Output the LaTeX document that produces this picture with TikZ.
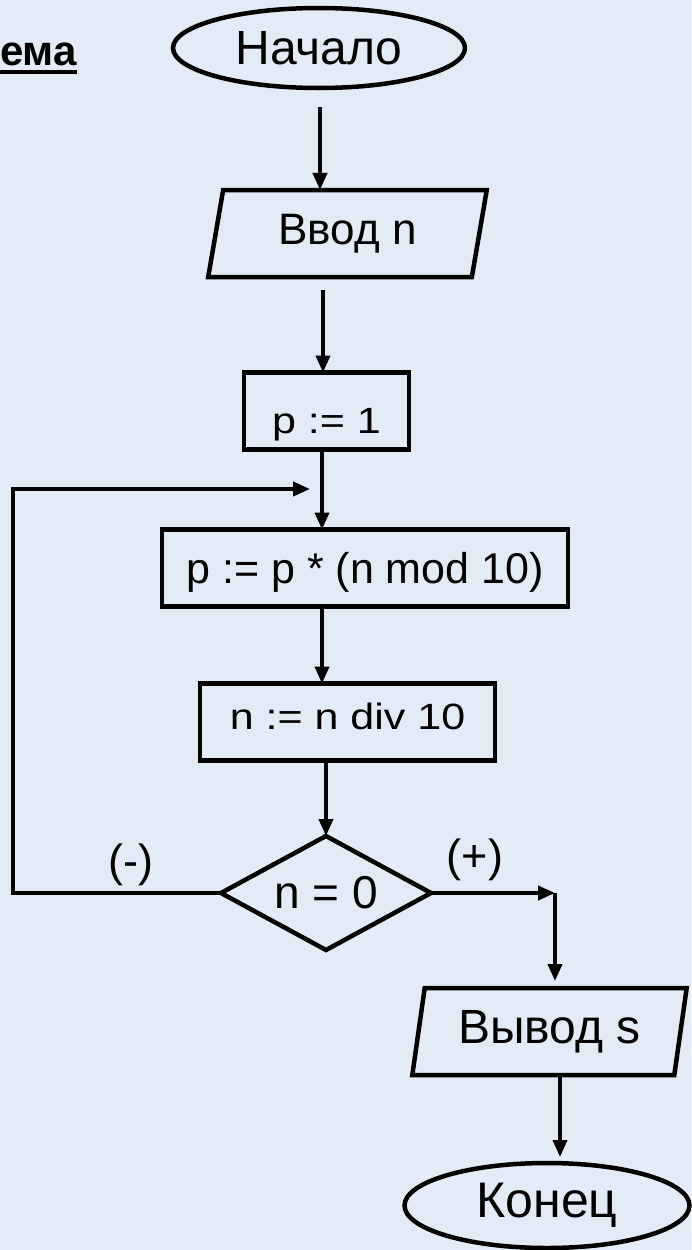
\documentclass[tikz,border=0pt]{standalone}
\usepackage{fontspec}
\setmainfont{Liberation Sans}
\usepackage{graphicx}
\usetikzlibrary{shapes.geometric,arrows.meta}
\definecolor{bgcol}{RGB}{226,235,246}
\begin{document}
\begin{tikzpicture}[x=1pt,y=-1pt,
  every node/.style={inner sep=0pt, outer sep=0pt},
  shapeline/.style={draw=black, line width=4.5pt},
  term/.style={shapeline, ellipse, font=\fontsize{48pt}{56pt}\selectfont},
  io/.style={shapeline, trapezium, trapezium left angle=78, trapezium right angle=102,
    trapezium stretches=true, minimum height=87pt, font=\fontsize{44pt}{52pt}\selectfont},
  proc/.style={shapeline, rectangle, minimum height=77pt, font=\fontsize{43pt}{50pt}\selectfont},
  cond/.style={shapeline, diamond, aspect=2, minimum width=210pt, minimum height=114pt,
    font=\fontsize{46pt}{52pt}\selectfont},
  lbl/.style={font=\fontsize{45pt}{52pt}\selectfont},
  arr/.style={line width=3.8pt, -{Triangle[length=17pt,width=14pt]}}
]
\useasboundingbox (0,0) rectangle (691,1250);
\fill[bgcol] (0,0) rectangle (691,1250);

% title fragment
\node[font=\bfseries\fontsize{42pt}{50pt}\selectfont, anchor=base west] (title) at (0,65) {ема};
\draw[line width=4.5pt] (0,72) -- (title.base east |- 0,72);

% blocks
\node[term, minimum width=292pt, minimum height=80pt] (start) at (319,48) {Начало};
\node[io, minimum width=279pt] (in) at (347.5,233.5) {Ввод n};
\node[proc, minimum width=165pt, text height=48pt, text depth=4pt] (b1) at (326.5,411) {\scalebox{1}[0.85]{p := 1}};
\node[proc, minimum width=406pt, text height=38pt, text depth=7pt] (b2) at (365,568) {p := p * (n mod 10)};
\node[proc, minimum width=295pt, text height=25pt, text depth=10pt] (b3) at (347.5,722) {\scalebox{1}[0.85]{n := n div 10}};
\node[cond] (d) at (326,893) {n = 0};
\node[io, minimum width=275pt, font=\fontsize{48pt}{56pt}\selectfont] (out) at (549.5,1031.5) {Вывод s};
\node[term, minimum width=285pt, minimum height=85pt, font=\fontsize{50pt}{58pt}\selectfont] (end) at (547,1205.5) {Конец};

% branch labels
\node[lbl] (minus) at (131,865) {(-)};
\node[lbl] (plus) at (475,860) {(+)};

% helper coordinates
\coordinate (ax0) at (320,0);
\coordinate (ax1) at (323,0);
\coordinate (ax2) at (322,0);
\coordinate (yes) at (555,893);
\coordinate (ax4) at (560,0);
\coordinate (lc) at (13,489);
\coordinate (lt) at (310,489);

% connectors
\draw[arr, shorten <=19pt] (start.south -| ax0) -- (in.north -| ax0);
\draw[arr, shorten <=13pt] (in.south -| ax1) -- (b1.north -| ax1);
\draw[arr] (b1.south -| ax2) -- (b2.north -| ax2);
\draw[arr] (b2.south -| ax2) -- (b3.north -| ax2);
\draw[arr] (b3.south -| d.north) -- (d.north);
\draw[arr] (d.east) -- (yes);
\draw[arr, shorten >=7pt] (yes) -- (out.north -| yes);
\draw[arr, shorten >=6pt] (out.south -| ax4) -- (end.north -| ax4);
\draw[arr] (d.west) -| (lc) -- (lt);
\end{tikzpicture}
\end{document}
